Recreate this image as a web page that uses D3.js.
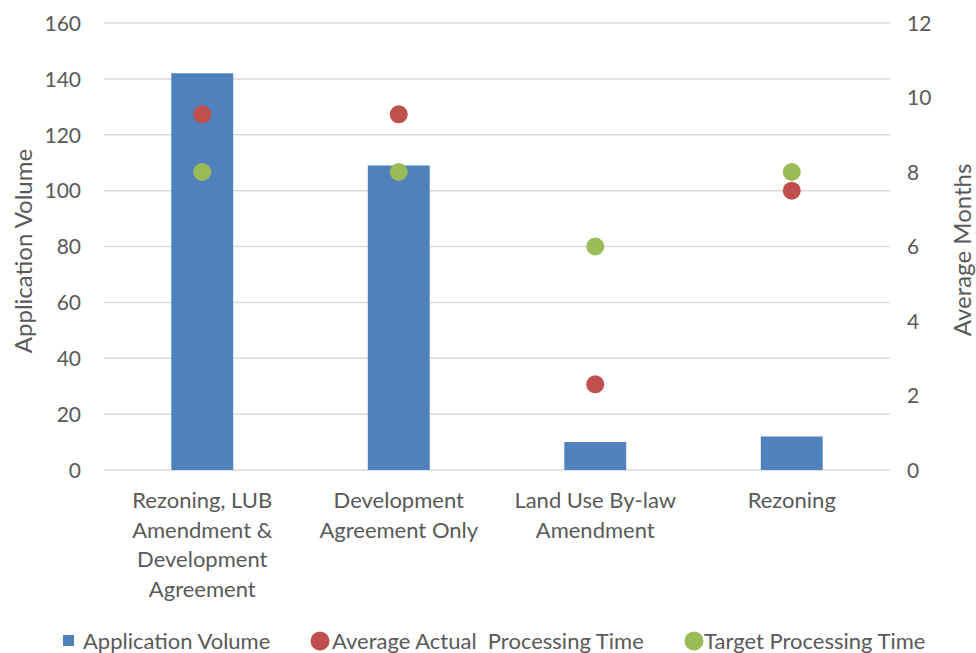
<!DOCTYPE html>
<html>
<head>
<meta charset="utf-8">
<script src="https://cdn.jsdelivr.net/npm/d3@7"></script>
<style>
  body { margin: 0; background: #fff; }
  svg { display: block; }
  text { font-family: Lato, "Open Sans", sans-serif; fill: #595959; }
</style>
</head>
<body>
<svg id="chart" width="976" height="653"></svg>
<script>
// Application types and their values
const categories = [
  ["Rezoning, LUB", "Amendment &", "Development", "Agreement"],
  ["Development", "Agreement Only"],
  ["Land Use By-law", "Amendment"],
  ["Rezoning"]
];
const applicationVolume = [142, 109, 10, 12];
const actualMonths = [9.55, 9.55, 2.3, 7.5];
const targetMonths = [8, 8, 6, 8];
const volumeTicks = [0, 20, 40, 60, 80, 100, 120, 140, 160];
const monthTicks = [0, 2, 4, 6, 8, 10, 12];

const colors = { volume: "#4f81bd", actual: "#c0504d", target: "#9bbb59" };

const svg = d3.select("#chart");
const m = { left: 104, right: 890, top: 23, bottom: 470 };

const x = d3.scaleBand().domain(d3.range(categories.length))
  .range([m.left, m.right]).paddingInner(0).paddingOuter(0);
const yL = d3.scaleLinear().domain([0, 160]).range([m.bottom, m.top]);
const yR = d3.scaleLinear().domain([0, 12]).range([m.bottom, m.top]);

// Gridlines
svg.append("g").selectAll("line").data(volumeTicks).join("line")
  .attr("x1", m.left).attr("x2", m.right)
  .attr("y1", d => yL(d)).attr("y2", d => yL(d))
  .attr("stroke", "#d9d9d9").attr("stroke-width", 1.5);

// Left axis
const leftAxis = svg.append("g").attr("transform", `translate(${m.left - 23},0)`)
  .call(d3.axisLeft(yL).tickValues(volumeTicks).tickSize(0).tickPadding(0));
leftAxis.select(".domain").remove();
leftAxis.selectAll("text").style("font-size", "21px").attr("fill", "#595959").attr("dy", "0.35em");

// Right axis
const rightAxis = svg.append("g").attr("transform", `translate(${m.right + 17},0)`)
  .call(d3.axisRight(yR).tickValues(monthTicks).tickSize(0).tickPadding(0));
rightAxis.select(".domain").remove();
rightAxis.selectAll("text").style("font-size", "21px").attr("fill", "#595959").attr("dy", "0.35em");

// Bars
const barW = x.bandwidth() * 0.315;
svg.append("g").selectAll("rect").data(applicationVolume).join("rect")
  .attr("x", (d, i) => x(i) + x.bandwidth() / 2 - barW / 2)
  .attr("width", barW)
  .attr("y", d => yL(d))
  .attr("height", d => yL(0) - yL(d))
  .attr("fill", colors.volume);

// Dots
function dots(values, color) {
  svg.append("g").selectAll("circle").data(values).join("circle")
    .attr("cx", (d, i) => x(i) + x.bandwidth() / 2)
    .attr("cy", d => yR(d))
    .attr("r", 9)
    .attr("fill", color);
}
dots(actualMonths, colors.actual);
dots(targetMonths, colors.target);

// Category labels
const catG = svg.append("g");
categories.forEach((lines, i) => {
  const t = catG.append("text")
    .attr("text-anchor", "middle")
    .style("font-size", "22px");
  lines.forEach((ln, j) => {
    t.append("tspan").attr("x", x(i) + x.bandwidth() / 2)
      .attr("y", 508 + j * 29.5).text(ln);
  });
});

// Axis titles
svg.append("text")
  .attr("transform", `translate(32,251) rotate(-90)`)
  .attr("text-anchor", "middle").style("font-size", "24px")
  .text("Application Volume");
svg.append("text")
  .attr("transform", `translate(971,250) rotate(-90)`)
  .attr("text-anchor", "middle").style("font-size", "24px")
  .text("Average Months");

// Legend
const lg = svg.append("g").style("font-size", "22px");
lg.append("rect").attr("x", 63).attr("y", 635).attr("width", 11).attr("height", 11).attr("fill", colors.volume);
lg.append("text").attr("x", 83).attr("y", 649).text("Application Volume");
lg.append("circle").attr("cx", 320).attr("cy", 641).attr("r", 9.5).attr("fill", colors.actual);
lg.append("text").attr("x", 332).attr("y", 649).attr("xml:space", "preserve").text("Average Actual  Processing Time");
lg.append("circle").attr("cx", 694).attr("cy", 641).attr("r", 9.5).attr("fill", colors.target);
lg.append("text").attr("x", 704).attr("y", 649).text("Target Processing Time");
</script>
</body>
</html>
